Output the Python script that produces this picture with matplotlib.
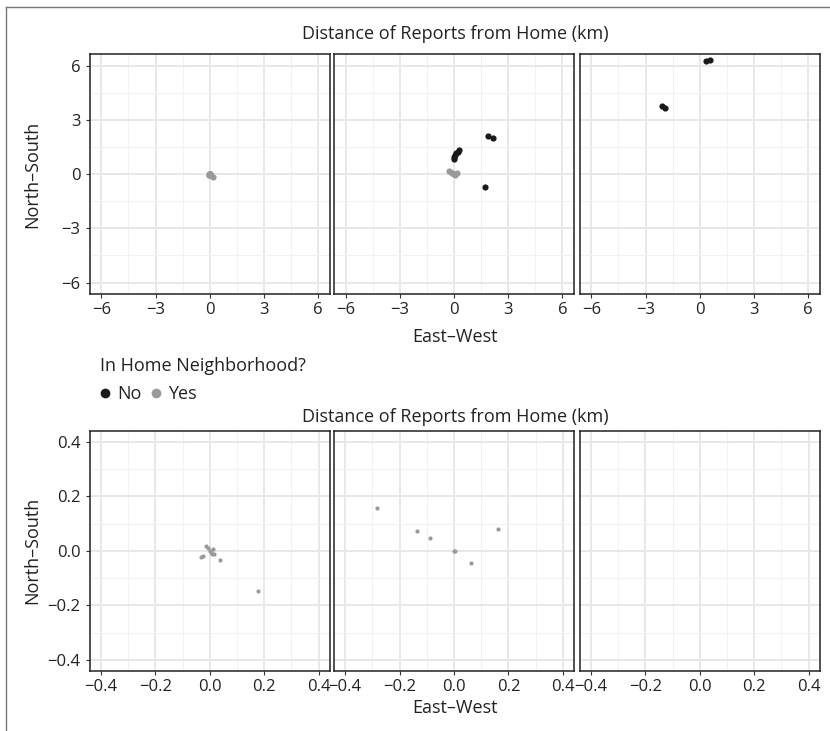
import matplotlib
matplotlib.use("Agg")
import matplotlib.pyplot as plt
from matplotlib.lines import Line2D

plt.rcParams['font.family'] = ['Open Sans', 'DejaVu Sans']

TITLE = "Distance of Reports from Home (km)"
XLABEL = "East\u2013West"
YLABEL = "North\u2013South"
LEGEND_TITLE = "In Home Neighborhood?"
LEGEND_LABELS = ["No", "Yes"]

# points outside the home neighborhood, one list per panel
no_x = [[], [0.0, 0.02, 0.05, 0.12, 0.2, 0.28, 1.9, 2.15, 1.69], [0.37, 0.55, -2.1, -1.93]]
no_y = [[], [0.85, 0.95, 1.05, 1.15, 1.25, 1.32, 2.1, 2.02, -0.72], [6.26, 6.31, 3.77, 3.65]]

# points inside the home neighborhood
yes_x = [[-0.032, -0.023, -0.014, -0.005, 0.0, 0.005, 0.012, 0.015, 0.008, 0.037, 0.177],
         [-0.284, -0.137, -0.09, 0.0, 0.003, 0.064, 0.16],
         []]
yes_y = [[-0.021, -0.02, 0.016, 0.01, 0.0, -0.005, 0.005, -0.01, -0.012, -0.033, -0.147],
         [0.157, 0.072, 0.047, 0.0, -0.002, -0.043, 0.08],
         []]

top_ticks = [-6, -3, 0, 3, 6]
top_labels = ["\u22126", "\u22123", "0", "3", "6"]
top_minor = [-4.5, -1.5, 1.5, 4.5]
top_lim = 6.63

bot_ticks = [-0.4, -0.2, 0.0, 0.2, 0.4]
bot_labels = ["\u22120.4", "\u22120.2", "0.0", "0.2", "0.4"]
bot_minor = [-0.3, -0.1, 0.1, 0.3]
bot_lim = 0.44

BLACK = "#1a1a1a"
GREY = "#9a9a9a"
TXT = "#222222"
FS = 13
TICK_FS = 12

W, H = 830, 731
fig = plt.figure(figsize=(W / 100, H / 100), dpi=100)

lefts = [90, 334.3, 580]
pw = 239.5


def style(ax, ticks, labels, minor, lim, show_y):
    ax.set_xlim(-lim, lim)
    ax.set_ylim(-lim, lim)
    ax.set_xticks(ticks)
    ax.set_xticklabels(labels)
    ax.set_yticks(ticks)
    ax.set_yticklabels(labels)
    ax.set_xticks(minor, minor=True)
    ax.set_yticks(minor, minor=True)
    ax.grid(which="major", color="#e8e8e8", linewidth=1.4, zorder=0)
    ax.grid(which="minor", color="#f2f2f2", linewidth=0.8, zorder=0)
    ax.set_axisbelow(True)
    ax.tick_params(which="minor", length=0)
    ax.tick_params(which="major", length=3, width=0.8, color="#333333",
                   labelsize=TICK_FS, labelcolor=TXT, pad=3)
    ax.tick_params(axis="y", pad=4)
    if not show_y:
        ax.tick_params(axis="y", which="major", length=0, labelleft=False)
    for s in ax.spines.values():
        s.set_color("#222222")
        s.set_linewidth(1.1)


def row(top_px, bot_px, ticks, labels, minor, lim, size, title_y, xlabel_y):
    axes = []
    for i, lx in enumerate(lefts):
        ax = fig.add_axes([lx / W, 1 - bot_px / H, pw / W, (bot_px - top_px) / H])
        style(ax, ticks, labels, minor, lim, i == 0)
        if no_x[i]:
            ax.scatter(no_x[i], no_y[i], s=size, color=BLACK, linewidths=0, zorder=3)
        if yes_x[i]:
            ax.scatter(yes_x[i], yes_y[i], s=size, color=GREY, linewidths=0, zorder=3)
        axes.append(ax)
    fig.text(455 / W, 1 - title_y / H, TITLE, ha="center", va="center", fontsize=FS, color=TXT)
    fig.text(455 / W, 1 - xlabel_y / H, XLABEL, ha="center", va="center", fontsize=FS, color=TXT)
    fig.text(32 / W, 1 - (top_px + bot_px) / 2 / H, YLABEL, ha="center", va="center",
             rotation=90, fontsize=FS, color=TXT)
    return axes


top_axes = row(54.3, 294, top_ticks, top_labels, top_minor, top_lim, 20, 34, 337)
bot_axes = row(431, 670.7, bot_ticks, bot_labels, bot_minor, bot_lim, 9, 416.7, 708.3)

# legend
fig.text(100 / W, 1 - 365.7 / H, LEGEND_TITLE, ha="left", va="center", fontsize=FS, color=TXT)
handles = [Line2D([], [], marker="o", linestyle="none", markersize=6, color=c) for c in (BLACK, GREY)]
leg = fig.legend(handles, LEGEND_LABELS, loc="center left",
                 bbox_to_anchor=(100 / W, 1 - 394 / H), ncol=2, frameon=False,
                 fontsize=FS, handlelength=0.6, handletextpad=0.35,
                 columnspacing=0.5, borderpad=0, borderaxespad=0)
for t in leg.get_texts():
    t.set_color(TXT)

# outer frame (top and left edges only)
fig.add_artist(Line2D([6 / W, 6 / W], [0, 1 - 7 / H], color="#777777", linewidth=1.0))
fig.add_artist(Line2D([6 / W, 1], [1 - 7 / H, 1 - 7 / H], color="#777777", linewidth=1.0))

fig.savefig("out.png", dpi=100)
